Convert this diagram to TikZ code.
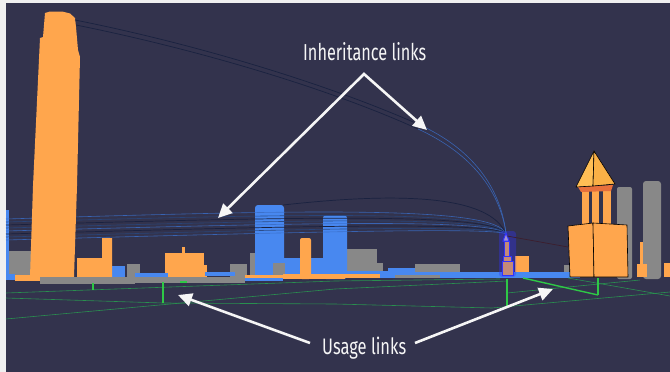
\documentclass[tikz,border=0pt]{standalone}
\usepackage{fontspec}
\newfontfamily\labelfont{Fira Sans}
\usetikzlibrary{arrows.meta}
\definecolor{bg}{RGB}{51,51,77}
\definecolor{org}{RGB}{255,166,77}
\definecolor{roofA}{RGB}{255,190,85}
\definecolor{roofB}{RGB}{250,176,70}
\definecolor{roofU}{RGB}{232,112,60}
\definecolor{blu}{RGB}{72,136,240}
\definecolor{gry}{RGB}{136,136,136}
\definecolor{grn}{RGB}{46,200,70}
\definecolor{dgrn}{RGB}{40,160,80}
\definecolor{frame}{RGB}{240,240,240}
\definecolor{ink}{RGB}{246,246,246}
\definecolor{linkdark}{RGB}{26,34,64}
\definecolor{linkblue}{RGB}{58,108,196}
\definecolor{linkmid}{RGB}{40,70,125}
\definecolor{selfill}{RGB}{196,138,120}
\definecolor{selglow}{RGB}{50,50,255}
\definecolor{redlink}{RGB}{60,30,45}
\begin{document}
\begin{tikzpicture}[x=1pt,y=-1pt,
  callout/.style={draw=ink, line width=2.6pt, line join=miter,
    {Triangle[length=14pt,width=13pt]}-{Triangle[length=14pt,width=13pt]}},
  callone/.style={draw=ink, line width=2.6pt, -{Triangle[length=14pt,width=13pt]}},
  lbl/.style={inner sep=0pt, text=ink, anchor=base west},
  inhdark/.style={draw=linkdark, line width=0.7pt},
  inhblue/.style={draw=linkblue, line width=0.6pt, opacity=0.85},
  inhmid/.style={draw=linkmid, line width=0.6pt, opacity=0.9},
  usebright/.style={draw=grn, line width=1.4pt},
  usedim/.style={draw=dgrn, line width=0.6pt, opacity=0.85},
  edge/.style={draw=black, line width=0.6pt, line join=round}]
% frame and background
\fill[frame] (0,0) rectangle (670,372);
\fill[bg] (6,3) rectangle (670,372);
\useasboundingbox (0,0) rectangle (670,372);

% ---------- back buildings ----------
\fill[gry, rounded corners=2pt] (617,187) rectangle (632,279);
\fill[gry, rounded corners=3pt] (643,181) rectangle (661,279);
\fill[gry] (6,251) rectangle (32,277);
\fill[gry] (127,264) rectangle (140,277);
\fill[gry] (230,264) rectangle (247,277);
\fill[gry] (250,253) rectangle (256,277);
\fill[gry] (333,249) rectangle (377,277);
\fill[gry] (377,263) rectangle (383,277);
\fill[gry] (415,264) rectangle (460,276);
\fill[gry] (564,265) rectangle (569,277);
% blue buildings
\fill[blu] (6,210) rectangle (9,276);
\fill[blu, rounded corners=3pt] (255,205) rectangle (284,279);
\fill[blu] (283,258) rectangle (324,277);
\fill[blu, rounded corners=3pt] (323,215) rectangle (347,279);
\fill[blu] (388,268) rectangle (415,277);
\fill[blu] (112,266) rectangle (125,277);
\fill[gry] (273,263) rectangle (285,277);

% ---------- inheritance bundle (behind tall tower) ----------
\foreach \y/\s in {222/inhmid,225/inhdark,228/inhmid,231/inhblue,234/inhdark,237/inhmid,240/inhblue}{
  \draw[\s] (6,\y) .. controls (300,\y-8) and (495,\y-13) .. (506,234);
}
\draw[inhblue] (6,219) .. controls (300,210) and (497,205) .. (506,234);
\draw[inhdark] (283,205) .. controls (400,192) and (490,195) .. (506,234);

% ---------- orange buildings ----------
\fill[org] (45,13) -- (50,11.5) -- (62,11.5) -- (70,13.5) -- (75,18) -- (76,27)
  -- (78,50) -- (80,57) -- (77,186) -- (74,277) -- (30,277) -- (33,186)
  -- (40,38) -- (43,37) -- cycle;
\fill[org] (77,277) -- (77,258) -- (102,258) -- (102,238) -- (112,238) -- (112,277) -- cycle;
\fill[org] (165,253) rectangle (204,279);
\fill[org] (182,247) rectangle (185,254);
\fill[org] (204,265) rectangle (207,277);
\fill[org, rounded corners=2pt] (300,238) rectangle (311,279);
\fill[org] (515,256) rectangle (529,276);
\fill[org] (637,264) rectangle (647,277);
\fill[org] (640,242) rectangle (643,265);
\fill[org] (664,263) rectangle (670,277);

% ---------- ground strips ----------
\fill[blu] (6,274) rectangle (15,280);
\fill[org] (15,275) rectangle (42,281);
\fill[gry] (40,277) rectangle (135,284);
\fill[blu] (135,273) rectangle (168,277);
\fill[gry] (135,277) rectangle (245,283);
\fill[blu] (205,272) rectangle (235,276);
\fill[org] (245,275) rectangle (283,278);
\fill[blu] (245,278) rectangle (283,281);
\fill[org] (283,274) rectangle (345,279);
\fill[blu] (345,271) rectangle (400,278);
\fill[org] (335,274) rectangle (380,278);
\fill[blu] (390,272) rectangle (580,278);
\fill[gry] (395,275) rectangle (440,278);

% ---------- right structure ----------
\fill[org] (582,188) rectangle (589,224);
\fill[org] (592,188) rectangle (599,224);
\fill[org] (603,188) rectangle (611,224);
\fill[roofU] (578,187) -- (613,185) -- (611,191) -- (581,192) -- cycle;
\filldraw[fill=roofA, edge] (594,151) -- (576,187) -- (593,186) -- cycle;
\filldraw[fill=roofB, edge] (594,151) -- (593,186) -- (615,184) -- cycle;
\filldraw[fill=org, edge] (568,226) -- (593,223) -- (594,277) -- (570,277) -- cycle;
\filldraw[fill=org, edge] (593,223) -- (627,225) -- (628,277) -- (594,277) -- cycle;

% ---------- selected building ----------
\fill[selglow, opacity=0.35, rounded corners=3pt] (499,231) rectangle (516,277);
\filldraw[fill=selfill, draw=selglow, line width=1pt] (502,261) rectangle (513,275);
\filldraw[fill=selfill, draw=selglow, line width=1pt] (503,256) rectangle (511,261);
\filldraw[fill=selfill, draw=selglow, line width=1pt] (504,241) rectangle (509,256);
\filldraw[fill={rgb,255:red,160;green,144;blue,214}, draw=selglow, line width=1pt] (506,233) -- (503,241) -- (509,241) -- cycle;

% ---------- inheritance links from tall tower ----------
\draw[inhdark] (75,20) .. controls (200,45) and (330,85) .. (420,125);
\draw[inhblue] (420,125) .. controls (470,148) and (500,185) .. (506,233);
\draw[inhdark] (76,25) .. controls (200,50) and (330,89) .. (418,129);
\draw[inhblue] (418,129) .. controls (468,152) and (499,187) .. (506,233);
\draw[draw=redlink, line width=0.7pt] (507,236) -- (568,247);

% ---------- usage links ----------
\draw[usedim] (6,319) -- (335,289) -- (507,281);
\draw[usedim] (6,298) -- (163,303) -- (335,304) -- (492,308) -- (670,292);
\draw[usedim] (6,293) -- (335,281) -- (500,279);
\draw[usedim] (507,293) -- (640,280);
\draw[usedim] (568,278) -- (670,296);
\draw[usebright] (93,283) -- (93,290);
\draw[usebright] (163,282) -- (163,303);
\draw[usebright] (507,279) -- (507,306);
\draw[usebright] (598,278) -- (598,295);
\draw[usebright] (523,278) -- (598,295);
\fill[grn] (180,281) rectangle (187,283);

% ---------- callouts ----------
\node[lbl] (inhlabel) at (303,60) {\resizebox{123pt}{18pt}{\labelfont Inheritance links}};
\node[lbl] (uselabel) at (322,354) {\resizebox{84pt}{17.5pt}{\labelfont Usage links}};
\coordinate (iapex) at (364,74);
\coordinate (itipL) at (218,218);
\coordinate (itipR) at (427,130);
\coordinate (utailL) at (310,343);
\coordinate (utipL) at (178,295);
\coordinate (utailR) at (415,343);
\coordinate (utipR) at (553,289);
\draw[callout] (itipL) -- (iapex) -- (itipR);
\draw[callone] (utailL) -- (utipL);
\draw[callone] (utailR) -- (utipR);
\end{tikzpicture}
\end{document}
